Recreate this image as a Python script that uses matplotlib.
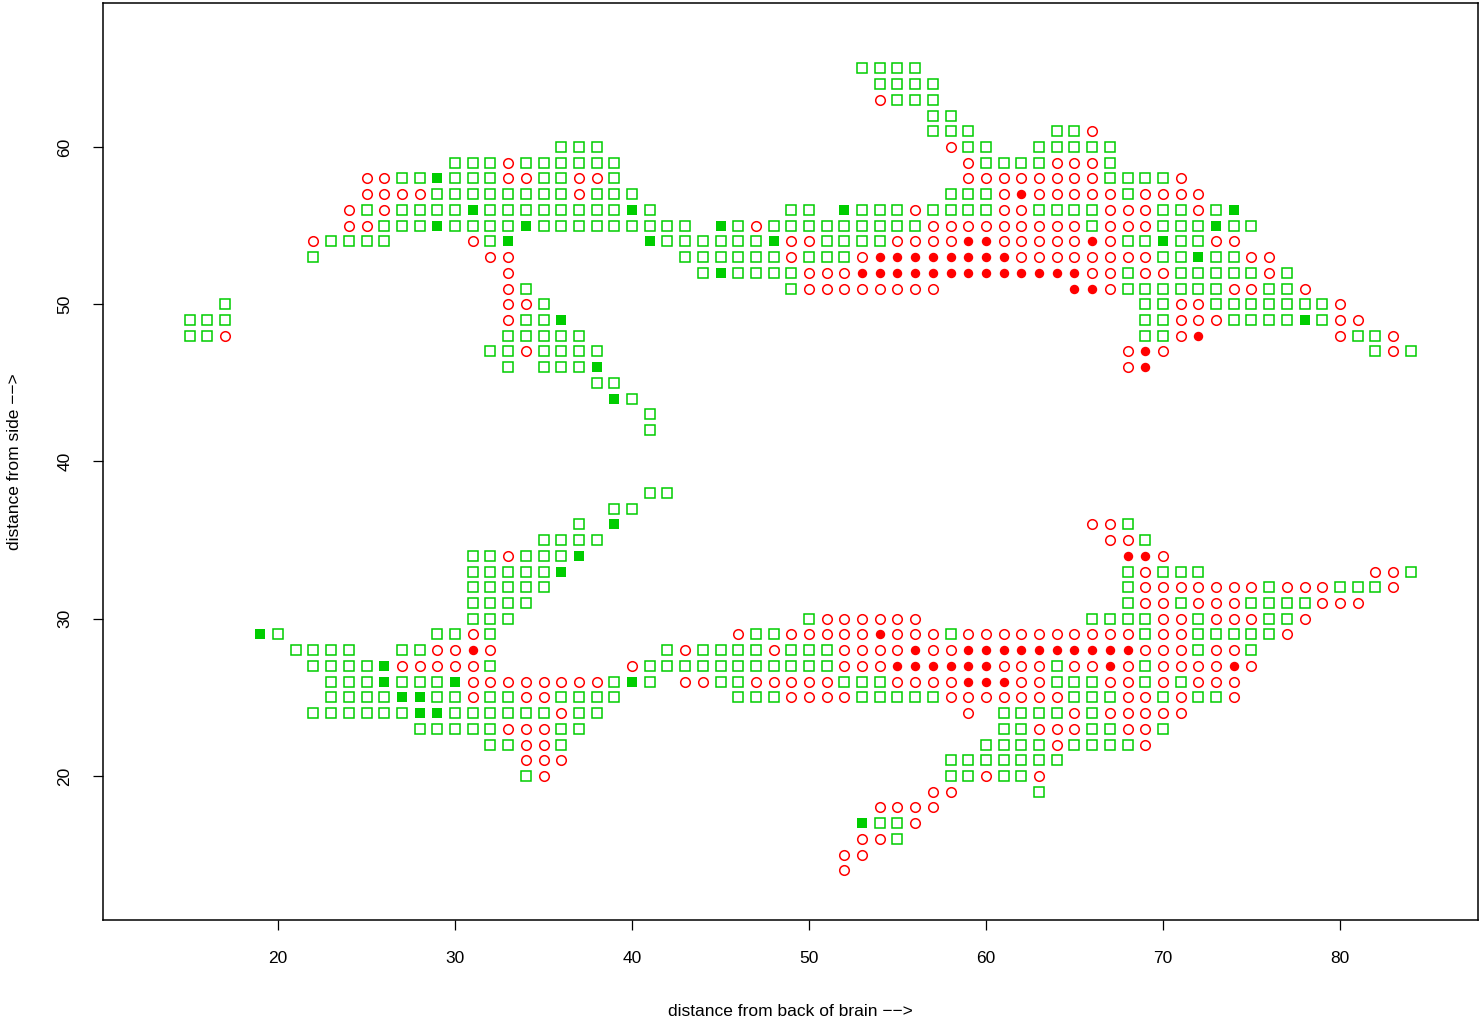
import matplotlib
matplotlib.use("Agg")
import matplotlib.pyplot as plt

plt.rcParams["font.family"] = ["Liberation Sans", "DejaVu Sans"]

# Grid rows: (y, first x, codes) -- s open square, c open circle,
# S filled square, C filled circle, . empty cell
upper_rows = [
    (65, 53, "ssss"),
    (64, 54, "ssss"),
    (63, 54, "csss"),
    (62, 57, "ss"),
    (61, 57, "sss....ssc"),
    (60, 36, "sss"),
    (60, 58, "css..sssss"),
    (59, 30, "ssscssssss"),
    (59, 59, "csssscccs"),
    (58, 25, "ccssSsssccssccs"),
    (58, 59, "ccccccccssssc"),
    (57, 25, "ccccsssssssscsss"),
    (57, 58, "ssscCcccccscccc"),
    (56, 24, "cscssssSssssssssSs"),
    (56, 49, "ss.SssscssssccsssscccsscsS"),
    (55, 24, "ccsssSssssSsssssssss.SscssssssssscccccccccscccsssSss"),
    (54, 22, "cssss"),
    (54, 31, "csS"),
    (54, 41, "SssssssSccssssccccCCcccccCcssSsscc"),
    (53, 22, "s"),
    (53, 32, "cc"),
    (53, 43, "sssssscssscCCCCCCCCccccccccssSsscc"),
    (52, 33, "c"),
    (52, 44, "sSsssscccCCCCCCCCCCCCCccsccssssscs"),
    (51, 33, "cs"),
    (51, 49, "scccccccc"),
    (51, 65, "CCcssssssccssc"),
    (50, 17, "s"),
    (50, 33, "ccs"),
    (50, 69, "ssccsssssssc"),
    (49, 15, "sss"),
    (49, 33, "cssS"),
    (49, 69, "sscccssssSscc"),
    (48, 15, "ssc"),
    (48, 33, "sssss"),
    (48, 69, "sscC"),
    (48, 80, "cssc"),
    (47, 32, "sscssss"),
    (47, 68, "cCc"),
    (47, 82, "scs"),
    (46, 33, "s.sssS"),
    (46, 68, "cC"),
    (45, 38, "ss"),
    (44, 39, "Ss"),
    (43, 41, "s"),
    (42, 41, "s"),
]

lower_rows = [
    (38, 41, "ss"),
    (37, 39, "ss"),
    (36, 37, "s.S"),
    (36, 66, "ccs"),
    (35, 35, "ssss"),
    (35, 67, "ccs"),
    (34, 31, "sscsssS"),
    (34, 68, "CCc"),
    (33, 31, "sssssS"),
    (33, 68, "scsss"),
    (33, 82, "ccs"),
    (32, 31, "sssss"),
    (32, 68, "scccccccscccsssc"),
    (31, 31, "ssss"),
    (31, 68, "sccscccssssccc"),
    (30, 31, "sss"),
    (30, 50, "scccccc"),
    (30, 66, "ssssccscccssc"),
    (29, 19, "Ss"),
    (29, 29, "sscs"),
    (29, 46, "csscccccCcccsccccccccccsccsssssc"),
    (28, 21, "ssss..ssccCc"),
    (28, 42, "scsssscsssccccCccCCCCCCCCCCcccsccs"),
    (27, 22, "ssssScccccs"),
    (27, 40, "cssssssssssscccCCCCCCcccsccCcsccccCc"),
    (26, 23, "sssSsssSccccccccsSs.ccsscccccsssccccCCCccsssccscsccc"),
    (25, 23, "ssssSSsscssccssss"),
    (25, 46, "sssccccssssscccccccsssccscssc"),
    (24, 22, "ssssssSSsssssscss"),
    (24, 59, "c.sssscsccccc"),
    (23, 28, "ssssscccss"),
    (23, 61, "sscccssccs"),
    (22, 32, "ssccs"),
    (22, 60, "sssscssssc"),
    (21, 34, "ccc"),
    (21, 58, "sssssss"),
    (20, 34, "sc"),
    (20, 58, "sscssc"),
    (19, 57, "cc"),
    (19, 63, "s"),
    (18, 54, "cccc"),
    (17, 53, "Sssc"),
    (16, 53, "ccs"),
    (15, 52, "cc"),
    (14, 52, "c"),
]

x_ticks = [20, 30, 40, 50, 60, 70, 80]
y_ticks = [20, 30, 40, 50, 60]

green = "#00CD00"
red = "#FF0000"

# Split rows into the four marker classes
points = {"s": ([], []), "c": ([], []), "S": ([], []), "C": ([], [])}
for y, x0, codes in upper_rows + lower_rows:
    for i, code in enumerate(codes):
        if code in points:
            points[code][0].append(x0 + i)
            points[code][1].append(y)

fig = plt.figure(figsize=(14.8, 10.24), dpi=100)
ax = fig.add_axes([103 / 1480, 1 - 920 / 1024, 1375 / 1480, 917 / 1024])

ax.plot(*points["s"], linestyle="none", marker="s", markersize=6.6,
        markerfacecolor="none", markeredgecolor=green, markeredgewidth=1.1)
ax.plot(*points["c"], linestyle="none", marker="o", markersize=6.9,
        markerfacecolor="none", markeredgecolor=red, markeredgewidth=1.1)
ax.plot(*points["S"], linestyle="none", marker="s", markersize=7.0,
        markerfacecolor=green, markeredgewidth=0)
ax.plot(*points["C"], linestyle="none", marker="o", markersize=6.8,
        markerfacecolor=red, markeredgewidth=0)

ax.set_xlim(10.11, 87.8)
ax.set_ylim(10.84, 69.16)
ax.set_xticks(x_ticks)
ax.set_yticks(y_ticks)
ax.tick_params(length=7, width=0.9, labelsize=12.5, pad=15)
for lab in ax.get_yticklabels():
    lab.set_rotation(90)
    lab.set_verticalalignment("center")
for sp in ax.spines.values():
    sp.set_linewidth(1.1)

ax.set_xlabel("distance from back of brain \u2212\u2212>", fontsize=12.5)
ax.set_ylabel("distance from side \u2212\u2212>", fontsize=12.5)
ax.xaxis.set_label_coords(0.5, -0.1)
ax.xaxis.label.set_verticalalignment("center")
ax.yaxis.set_label_coords(-0.0647, 0.5)
ax.yaxis.label.set_verticalalignment("center")

fig.savefig("out.png", dpi=100)
